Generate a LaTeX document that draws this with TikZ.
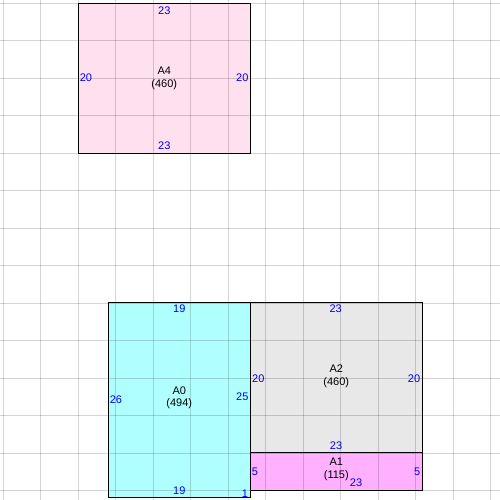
\documentclass[tikz,border=0pt]{standalone}
\usepackage{fontspec}
\setmainfont{Liberation Sans}
\begin{document}
\begin{tikzpicture}[x=1pt,y=-1pt,
  box/.style={draw=black,line width=1.1pt,minimum width=#1,inner sep=0pt,anchor=center},
  lab/.style={text=blue,inner sep=0pt,font=\fontsize{11}{12}\selectfont},
  boxname/.style={text=black,inner sep=0pt,align=center,font=\fontsize{11}{12.5}\selectfont},
  gridline/.style={draw={rgb,255:red,212;green,212;blue,212},line width=0.9pt}]
\useasboundingbox (0,0) rectangle (500,500);
\fill[white] (0,0) rectangle (500,500);
\definecolor{pinkA}{RGB}{255,224,238}
\definecolor{cyanA}{RGB}{176,255,255}
\definecolor{grayA}{RGB}{232,232,232}
\definecolor{magA}{RGB}{255,176,255}
\node[box=172pt,minimum height=150pt,fill=pinkA] (A4) at (164.3,78.3) {};
\node[box=142pt,minimum height=195pt,fill=cyanA] (A0) at (179.3,399.8) {};
\node[box=172pt,minimum height=150pt,fill=grayA] (A2) at (336.3,377.3) {};
\node[box=172pt,minimum height=38pt,fill=magA] (A1) at (336.3,471.3) {};
\begin{scope}[blend mode=multiply]
\foreach \k in {0,...,13} {
  \draw[gridline] ({3.3+37.5*\k},0) -- ({3.3+37.5*\k},500);
  \draw[gridline] (0,{3.3+37.5*\k}) -- (500,{3.3+37.5*\k});
}
\end{scope}
% A4
\node[boxname] (tA4) at (A4.center) {A4\\(460)};
\node[lab] (a4t) at (164.3,10.3) {23};
\node[lab] (a4b) at (164.3,146) {23};
\node[lab] (a4l) at (86,78) {20};
\node[lab] (a4r) at (242.3,78) {20};
% A0
\node[boxname] (tA0) at (179.3,398) {A0\\(494)};
\node[lab] (a0t) at (179.3,309) {19};
\node[lab] (a0b) at (179.3,491) {19};
\node[lab] (a0l) at (116,400) {26};
\node[lab] (a0r) at (242.3,396.7) {25};
\node[lab] (a0c) at (245,494) {1};
% A2
\node[boxname] (tA2) at (336.3,376.2) {A2\\(460)};
\node[lab] (a2t) at (335.7,309) {23};
\node[lab] (a2b) at (336,445.7) {23};
\node[lab] (a2l) at (258.3,378.3) {20};
\node[lab] (a2r) at (414,378.3) {20};
% A1
\node[boxname] (tA1) at (336.3,469.2) {A1\\(115)};
\node[lab] (a1l) at (255,471.7) {5};
\node[lab] (a1r) at (417.3,471.7) {5};
\node[lab] (a1b) at (356,482.7) {23};
\end{tikzpicture}
\end{document}
